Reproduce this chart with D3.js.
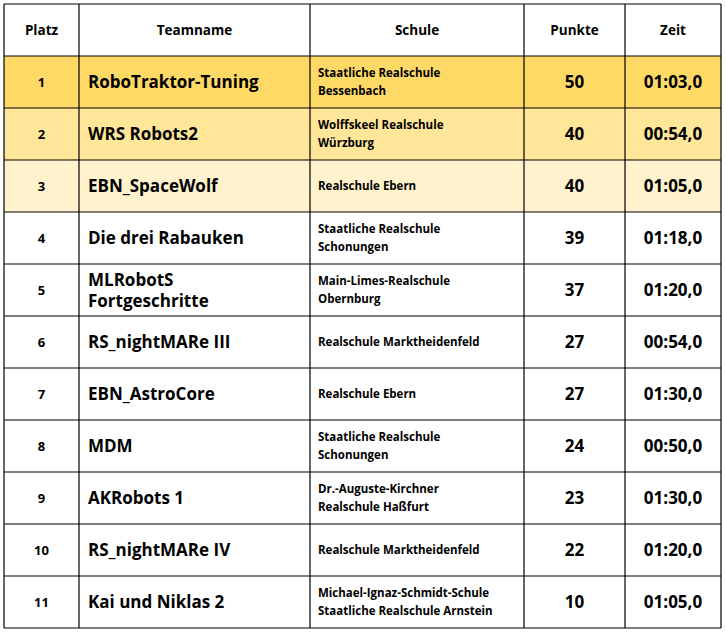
<!DOCTYPE html>
<html><head><meta charset="utf-8">
<script src="https://cdn.jsdelivr.net/npm/d3@7"></script>
<style>body{margin:0;background:#fff}</style>
</head><body>
<script>
const columns = ["Platz", "Teamname", "Schule", "Punkte", "Zeit"];
const places = [1, 2, 3, 4, 5, 6, 7, 8, 9, 10, 11];
const teams = ["RoboTraktor-Tuning", "WRS Robots2", "EBN_SpaceWolf", "Die drei Rabauken",
  "MLRobotS\nFortgeschritte", "RS_nightMARe III", "EBN_AstroCore", "MDM", "AKRobots 1",
  "RS_nightMARe IV", "Kai und Niklas 2"];
const schools = ["Staatliche Realschule\nBessenbach", "Wolffskeel Realschule\nWürzburg", "Realschule Ebern",
  "Staatliche Realschule\nSchonungen", "Main-Limes-Realschule\nObernburg", "Realschule Marktheidenfeld",
  "Realschule Ebern", "Staatliche Realschule\nSchonungen", "Dr.-Auguste-Kirchner\nRealschule Haßfurt",
  "Realschule Marktheidenfeld", "Michael-Ignaz-Schmidt-Schule\nStaatliche Realschule Arnstein"];
const points = [50, 40, 40, 39, 37, 27, 27, 24, 23, 22, 10];
const times = ["01:03,0", "00:54,0", "01:05,0", "01:18,0", "01:20,0", "00:54,0", "01:30,0",
  "00:50,0", "01:30,0", "01:20,0", "01:05,0"];
const rowFills = ["#FFD966", "#FFE699", "#FFF2CC"];

const colEdges = [4, 79, 310, 524, 625, 721];
const W = 725, H = 633;
const svg = d3.select("body").append("svg").attr("width", W).attr("height", H)
  .style("font-family", "'Open Sans', sans-serif").style("font-weight", "bold");

const y = d3.scaleBand().domain(d3.range(places.length + 1)).range([4, 628]);
const font = "'Open Sans', sans-serif";

const rows = svg.selectAll("g.row").data(d3.range(places.length + 1)).join("g")
  .attr("transform", r => `translate(0,${y(r)})`);

rows.append("rect").attr("x", colEdges[0]).attr("width", colEdges[5] - colEdges[0])
  .attr("height", y.bandwidth())
  .attr("fill", r => r >= 1 && r <= 3 ? rowFills[r - 1] : "#fff");

function multi(g, text, x, anchor, size, lh) {
  const lines = String(text).split("\n");
  const t = g.append("text").attr("text-anchor", anchor).attr("font-size", size).attr("fill", "#000");
  lines.forEach((l, i) => t.append("tspan").attr("x", x)
    .attr("y", y.bandwidth() / 2 + (i - (lines.length - 1) / 2) * lh).attr("dy", "0.36em").text(l));
}

rows.each(function(r) {
  const g = d3.select(this);
  const mid = i => (colEdges[i] + colEdges[i + 1]) / 2;
  if (r === 0) {
    columns.forEach((c, i) => multi(g, c, mid(i), "middle", 13.5, 0));
    return;
  }
  const i = r - 1;
  multi(g, places[i], mid(0), "middle", 13, 0);
  multi(g, teams[i], colEdges[1] + 9, "start", 17, 21);
  multi(g, schools[i], colEdges[2] + 8, "start", 11.5, 18.5);
  multi(g, points[i], mid(3), "middle", 17, 0);
  multi(g, times[i], mid(4), "middle", 17, 0);
});

// grid lines
svg.selectAll("line.h").data(d3.range(places.length + 2)).join("line")
  .attr("x1", colEdges[0]).attr("x2", colEdges[5])
  .attr("y1", r => r === places.length + 1 ? 628 : y(r)).attr("y2", r => r === places.length + 1 ? 628 : y(r))
  .attr("stroke", "#000").attr("stroke-width", 1.2);
svg.selectAll("line.v").data(colEdges).join("line")
  .attr("x1", d => d).attr("x2", d => d).attr("y1", 4).attr("y2", 628)
  .attr("stroke", "#000").attr("stroke-width", 1.2);
</script>
</body></html>
